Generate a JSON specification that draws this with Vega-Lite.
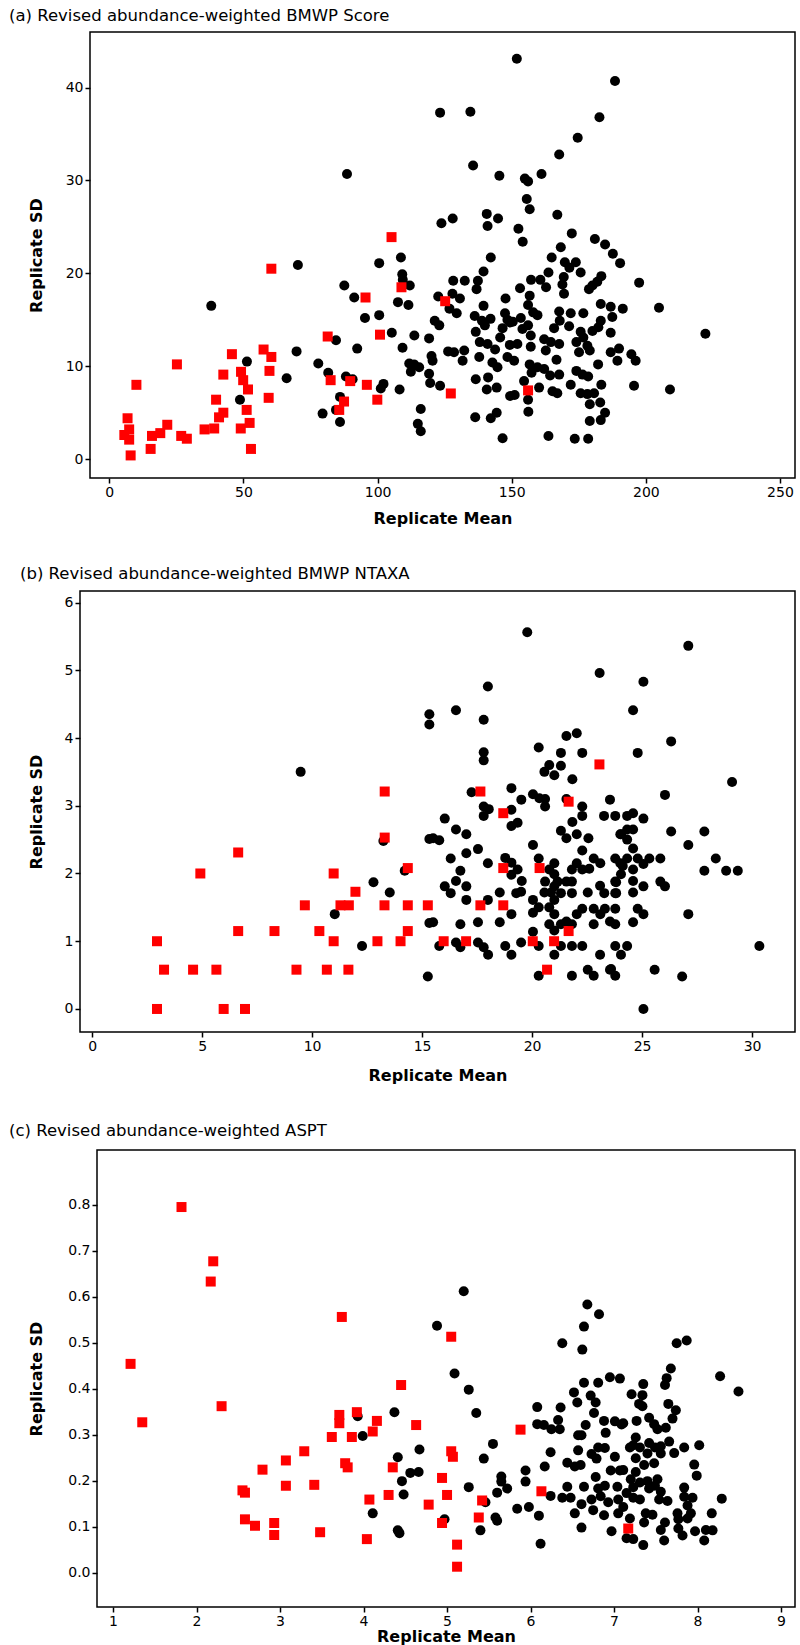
{
"$schema": "https://vega.github.io/schema/vega-lite/v6.json",
"background": "white",
"padding": {"left": 7, "top": 6, "right": 2, "bottom": 0},
"spacing": 37,
"config": {
  "view": {"stroke": "#000000", "strokeWidth": 1.5},
  "axis": {"domain": false, "grid": false, "ticks": true, "tickColor": "#000000", "tickSize": 5, "tickWidth": 1.5, "labelPadding": 2,
    "labelFont": "DejaVu Sans", "labelFontSize": 14, "labelColor": "#000000",
    "titleFont": "DejaVu Sans", "titleFontSize": 16, "titleFontWeight": "bold", "titleColor": "#000000", "titlePadding": 11},
  "title": {"font": "DejaVu Sans", "fontSize": 16.5, "fontWeight": "normal", "anchor": "start", "frame": "group", "color": "#000000"},
  "point": {"filled": true, "opacity": 1, "strokeWidth": 0}
},
"vconcat": [
{"spacing": 0, "hconcat": [
{
  "width": 1, "height": 1,
  "view": {"stroke": null},
  "data": {"values": []},
  "mark": {"type": "point", "opacity": 0}
},
{
  "title": {"text": "(a) Revised abundance-weighted BMWP Score", "dx": -81, "offset": 8},
  "width": 705, "height": 446,
  "data": {"values": [
{"x":88.6,"y":30.7,"g":"b"},{"x":38.0,"y":16.5,"g":"b"},{"x":70.3,"y":20.9,"g":"b"},{"x":100.6,"y":21.1,"g":"b"},{"x":108.7,"y":21.7,"g":"b"},{"x":109.2,"y":19.9,"g":"b"},{"x":109.4,"y":19.3,"g":"b"},{"x":112.0,"y":18.7,"g":"b"},{"x":87.6,"y":18.7,"g":"b"},{"x":91.3,"y":17.4,"g":"b"},{"x":107.6,"y":16.9,"g":"b"},{"x":111.5,"y":16.6,"g":"b"},{"x":95.3,"y":15.2,"g":"b"},{"x":100.6,"y":15.5,"g":"b"},{"x":105.3,"y":13.6,"g":"b"},{"x":113.7,"y":13.3,"g":"b"},{"x":109.3,"y":12.0,"g":"b"},{"x":92.4,"y":11.9,"g":"b"},{"x":84.5,"y":12.8,"g":"b"},{"x":69.8,"y":11.6,"g":"b"},{"x":51.3,"y":10.5,"g":"b"},{"x":77.9,"y":10.3,"g":"b"},{"x":81.6,"y":9.3,"g":"b"},{"x":66.1,"y":8.7,"g":"b"},{"x":88.2,"y":8.9,"g":"b"},{"x":90.7,"y":8.6,"g":"b"},{"x":102.2,"y":8.1,"g":"b"},{"x":101.2,"y":7.6,"g":"b"},{"x":108.2,"y":7.5,"g":"b"},{"x":111.8,"y":10.3,"g":"b"},{"x":112.4,"y":9.4,"g":"b"},{"x":115.5,"y":9.9,"g":"b"},{"x":48.7,"y":6.4,"g":"b"},{"x":86.0,"y":6.7,"g":"b"},{"x":84.5,"y":5.3,"g":"b"},{"x":79.5,"y":4.9,"g":"b"},{"x":86.0,"y":4.0,"g":"b"},{"x":115.0,"y":3.8,"g":"b"},{"x":116.1,"y":3.0,"g":"b"},{"x":116.1,"y":5.4,"g":"b"},
{"x":151.9,"y":43.1,"g":"b"},{"x":188.5,"y":40.7,"g":"b"},{"x":123.3,"y":37.3,"g":"b"},{"x":134.6,"y":37.4,"g":"b"},{"x":182.7,"y":36.8,"g":"b"},{"x":174.6,"y":34.6,"g":"b"},{"x":167.7,"y":32.8,"g":"b"},{"x":135.6,"y":31.6,"g":"b"},{"x":145.4,"y":30.5,"g":"b"},{"x":154.9,"y":30.2,"g":"b"},{"x":156.1,"y":29.9,"g":"b"},{"x":161.1,"y":30.7,"g":"b"},{"x":155.6,"y":28.0,"g":"b"},{"x":156.7,"y":26.9,"g":"b"},{"x":167.0,"y":26.3,"g":"b"},{"x":123.8,"y":25.4,"g":"b"},{"x":128.0,"y":25.9,"g":"b"},{"x":140.7,"y":26.4,"g":"b"},{"x":141.0,"y":25.1,"g":"b"},{"x":144.9,"y":25.9,"g":"b"},{"x":152.5,"y":24.8,"g":"b"},{"x":154.1,"y":23.4,"g":"b"},{"x":172.4,"y":24.3,"g":"b"},{"x":181.0,"y":23.7,"g":"b"},{"x":184.8,"y":23.1,"g":"b"},{"x":187.7,"y":22.1,"g":"b"},{"x":190.4,"y":21.1,"g":"b"},{"x":168.3,"y":22.8,"g":"b"},{"x":164.9,"y":21.7,"g":"b"},{"x":169.8,"y":21.2,"g":"b"},{"x":173.9,"y":21.2,"g":"b"},{"x":171.5,"y":20.6,"g":"b"},{"x":175.7,"y":20.1,"g":"b"},{"x":142.2,"y":21.7,"g":"b"},{"x":139.5,"y":20.2,"g":"b"},{"x":137.4,"y":19.2,"g":"b"},{"x":136.9,"y":18.3,"g":"b"},{"x":128.2,"y":19.2,"g":"b"},{"x":132.5,"y":19.2,"g":"b"},{"x":153.1,"y":18.4,"g":"b"},{"x":157.2,"y":19.3,"g":"b"},{"x":160.7,"y":19.3,"g":"b"},{"x":163.7,"y":20.1,"g":"b"},{"x":162.8,"y":18.5,"g":"b"},{"x":169.4,"y":19.6,"g":"b"},{"x":168.9,"y":18.8,"g":"b"},{"x":169.5,"y":17.8,"g":"b"},{"x":183.4,"y":19.7,"g":"b"},{"x":181.9,"y":19.1,"g":"b"},{"x":180.1,"y":18.7,"g":"b"},{"x":178.8,"y":18.3,"g":"b"},{"x":122.6,"y":17.5,"g":"b"},{"x":127.9,"y":17.8,"g":"b"},{"x":130.7,"y":17.3,"g":"b"},{"x":126.8,"y":16.2,"g":"b"},{"x":129.5,"y":15.7,"g":"b"},{"x":147.7,"y":17.3,"g":"b"},{"x":139.5,"y":16.5,"g":"b"},{"x":156.7,"y":17.6,"g":"b"},{"x":156.1,"y":16.6,"g":"b"},{"x":158.0,"y":15.8,"g":"b"},{"x":159.6,"y":15.5,"g":"b"},{"x":147.5,"y":15.7,"g":"b"},{"x":148.4,"y":15.0,"g":"b"},{"x":150.4,"y":14.8,"g":"b"},{"x":136.2,"y":15.4,"g":"b"},{"x":138.9,"y":14.9,"g":"b"},{"x":142.1,"y":15.1,"g":"b"},{"x":153.4,"y":15.2,"g":"b"},{"x":156.1,"y":14.4,"g":"b"},{"x":167.7,"y":15.9,"g":"b"},{"x":172.0,"y":15.7,"g":"b"},{"x":167.9,"y":14.9,"g":"b"},{"x":165.8,"y":14.1,"g":"b"},{"x":171.4,"y":14.3,"g":"b"},{"x":176.7,"y":15.7,"g":"b"},{"x":183.2,"y":16.7,"g":"b"},{"x":186.9,"y":16.4,"g":"b"},{"x":187.5,"y":15.3,"g":"b"},{"x":183.2,"y":14.9,"g":"b"},{"x":182.3,"y":14.2,"g":"b"},{"x":186.9,"y":13.6,"g":"b"},{"x":180.1,"y":13.8,"g":"b"},{"x":175.7,"y":13.7,"g":"b"},{"x":176.7,"y":13.1,"g":"b"},{"x":121.3,"y":14.9,"g":"b"},{"x":123.0,"y":14.4,"g":"b"},{"x":119.2,"y":13.0,"g":"b"},{"x":136.6,"y":13.7,"g":"b"},{"x":140.0,"y":14.4,"g":"b"},{"x":146.6,"y":14.1,"g":"b"},{"x":145.7,"y":13.1,"g":"b"},{"x":149.4,"y":14.7,"g":"b"},{"x":154.0,"y":14.0,"g":"b"},{"x":157.1,"y":13.3,"g":"b"},{"x":162.1,"y":12.9,"g":"b"},{"x":167.7,"y":12.4,"g":"b"},{"x":138.1,"y":12.6,"g":"b"},{"x":141.0,"y":12.4,"g":"b"},{"x":143.8,"y":11.8,"g":"b"},{"x":149.3,"y":12.3,"g":"b"},{"x":152.1,"y":12.4,"g":"b"},{"x":157.1,"y":12.1,"g":"b"},{"x":162.7,"y":11.7,"g":"b"},{"x":164.6,"y":12.6,"g":"b"},{"x":166.7,"y":10.7,"g":"b"},{"x":174.1,"y":12.6,"g":"b"},{"x":178.2,"y":12.2,"g":"b"},{"x":175.1,"y":11.5,"g":"b"},{"x":179.1,"y":11.7,"g":"b"},{"x":186.9,"y":11.5,"g":"b"},{"x":189.4,"y":10.6,"g":"b"},{"x":126.3,"y":11.6,"g":"b"},{"x":128.5,"y":11.5,"g":"b"},{"x":132.3,"y":11.7,"g":"b"},{"x":131.7,"y":10.6,"g":"b"},{"x":120.1,"y":11.1,"g":"b"},{"x":120.5,"y":10.6,"g":"b"},{"x":113.6,"y":10.2,"g":"b"},{"x":119.2,"y":9.2,"g":"b"},{"x":119.6,"y":8.2,"g":"b"},{"x":123.3,"y":7.9,"g":"b"},{"x":137.9,"y":11.0,"g":"b"},{"x":142.8,"y":10.4,"g":"b"},{"x":148.4,"y":11.0,"g":"b"},{"x":150.9,"y":10.6,"g":"b"},{"x":144.7,"y":9.9,"g":"b"},{"x":156.7,"y":10.2,"g":"b"},{"x":159.6,"y":9.9,"g":"b"},{"x":162.1,"y":9.7,"g":"b"},{"x":157.4,"y":9.3,"g":"b"},{"x":154.6,"y":8.4,"g":"b"},{"x":164.3,"y":9.0,"g":"b"},{"x":167.7,"y":9.1,"g":"b"},{"x":160.2,"y":7.7,"g":"b"},{"x":165.2,"y":7.3,"g":"b"},{"x":167.0,"y":7.1,"g":"b"},{"x":136.6,"y":8.6,"g":"b"},{"x":141.2,"y":8.8,"g":"b"},{"x":140.7,"y":7.5,"g":"b"},{"x":144.4,"y":7.7,"g":"b"},{"x":149.4,"y":6.8,"g":"b"},{"x":151.1,"y":6.9,"g":"b"},{"x":156.1,"y":6.4,"g":"b"},{"x":156.2,"y":5.1,"g":"b"},{"x":172.0,"y":8.0,"g":"b"},{"x":174.1,"y":9.5,"g":"b"},{"x":176.4,"y":9.1,"g":"b"},{"x":178.5,"y":8.9,"g":"b"},{"x":175.7,"y":7.1,"g":"b"},{"x":178.2,"y":7.0,"g":"b"},{"x":180.7,"y":7.1,"g":"b"},{"x":182.2,"y":10.2,"g":"b"},{"x":183.4,"y":8.0,"g":"b"},{"x":179.1,"y":5.9,"g":"b"},{"x":183.0,"y":6.1,"g":"b"},{"x":184.8,"y":5.0,"g":"b"},{"x":183.2,"y":4.2,"g":"b"},{"x":179.1,"y":4.1,"g":"b"},{"x":136.4,"y":4.5,"g":"b"},{"x":142.2,"y":4.4,"g":"b"},{"x":144.4,"y":5.0,"g":"b"},{"x":146.6,"y":2.25,"g":"b"},{"x":163.7,"y":2.5,"g":"b"},{"x":173.5,"y":2.2,"g":"b"},{"x":178.5,"y":2.2,"g":"b"},
{"x":197.5,"y":19.0,"g":"b"},{"x":204.9,"y":16.3,"g":"b"},{"x":191.4,"y":16.2,"g":"b"},{"x":222.2,"y":13.5,"g":"b"},{"x":190.0,"y":11.9,"g":"b"},{"x":194.6,"y":11.3,"g":"b"},{"x":196.2,"y":10.6,"g":"b"},{"x":195.6,"y":7.9,"g":"b"},{"x":209.0,"y":7.5,"g":"b"},
{"x":105.2,"y":23.9,"g":"r"},{"x":60.4,"y":20.5,"g":"r"},{"x":108.9,"y":18.5,"g":"r"},{"x":95.5,"y":17.4,"g":"r"},{"x":100.9,"y":13.4,"g":"r"},{"x":81.4,"y":13.2,"g":"r"},{"x":45.7,"y":11.3,"g":"r"},{"x":57.5,"y":11.8,"g":"r"},{"x":60.4,"y":11.0,"g":"r"},{"x":25.2,"y":10.2,"g":"r"},{"x":42.5,"y":9.1,"g":"r"},{"x":59.7,"y":9.5,"g":"r"},{"x":49.1,"y":9.4,"g":"r"},{"x":49.9,"y":8.5,"g":"r"},{"x":51.7,"y":7.5,"g":"r"},{"x":10.1,"y":8.0,"g":"r"},{"x":82.5,"y":8.5,"g":"r"},{"x":89.8,"y":8.4,"g":"r"},{"x":96.0,"y":8.0,"g":"r"},{"x":99.9,"y":6.4,"g":"r"},{"x":87.5,"y":6.2,"g":"r"},{"x":85.7,"y":5.3,"g":"r"},{"x":39.8,"y":6.4,"g":"r"},{"x":59.4,"y":6.6,"g":"r"},{"x":51.2,"y":5.3,"g":"r"},{"x":42.5,"y":5.0,"g":"r"},{"x":40.9,"y":4.5,"g":"r"},{"x":6.8,"y":4.4,"g":"r"},{"x":21.6,"y":3.7,"g":"r"},{"x":52.3,"y":3.9,"g":"r"},{"x":7.4,"y":3.2,"g":"r"},{"x":5.6,"y":2.6,"g":"r"},{"x":7.4,"y":2.1,"g":"r"},{"x":15.9,"y":2.5,"g":"r"},{"x":19.0,"y":2.8,"g":"r"},{"x":26.8,"y":2.5,"g":"r"},{"x":28.9,"y":2.2,"g":"r"},{"x":35.5,"y":3.2,"g":"r"},{"x":39.1,"y":3.3,"g":"r"},{"x":49.0,"y":3.3,"g":"r"},{"x":15.4,"y":1.1,"g":"r"},{"x":52.8,"y":1.1,"g":"r"},{"x":7.95,"y":0.4,"g":"r"},{"x":125.2,"y":17.0,"g":"r"},{"x":127.3,"y":7.07,"g":"r"},{"x":156.1,"y":7.4,"g":"r"}
  ]},
  "mark": {"type": "point"},
  "encoding": {
    "x": {"field": "x", "type": "quantitative", "scale": {"domain": [-7.2, 255.6], "nice": false, "zero": false}, "axis": {"values": [0,50,100,150,200,250], "title": "Replicate Mean"}},
    "y": {"field": "y", "type": "quantitative", "scale": {"domain": [-2.03, 45.98], "nice": false, "zero": false}, "axis": {"values": [0,10,20,30,40], "title": "Replicate SD", "titleX": -54, "titleBaseline": "middle"}},
    "shape": {"field": "g", "type": "nominal", "scale": {"domain": ["b","r"], "range": ["circle","square"]}, "legend": null},
    "color": {"field": "g", "type": "nominal", "scale": {"domain": ["b","r"], "range": ["#000000","#ff0000"]}, "legend": null},
    "size": {"value": 100}
  }
}
]},
{"spacing": 11, "hconcat": [
{
  "width": 1, "height": 1,
  "view": {"stroke": null},
  "data": {"values": []},
  "mark": {"type": "point", "opacity": 0}
},
{
  "title": {"text": "(b) Revised abundance-weighted BMWP NTAXA", "dx": -60, "offset": 9},
  "width": 715, "height": 441,
  "data": {"values": [
{"x":9.48,"y":3.5,"g":"b"},{"x":13.24,"y":2.48,"g":"b"},{"x":12.79,"y":1.87,"g":"b"},{"x":13.53,"y":1.72,"g":"b"},{"x":14.21,"y":2.04,"g":"b"},{"x":11.03,"y":1.40,"g":"b"},{"x":12.27,"y":0.93,"g":"b"},{"x":15.33,"y":4.35,"g":"b"},{"x":15.33,"y":4.20,"g":"b"},{"x":15.33,"y":2.51,"g":"b"},{"x":15.33,"y":1.27,"g":"b"},{"x":15.26,"y":0.48,"g":"b"},
{"x":19.78,"y":5.56,"g":"b"},{"x":23.07,"y":4.96,"g":"b"},{"x":17.99,"y":4.76,"g":"b"},{"x":16.54,"y":4.41,"g":"b"},{"x":17.8,"y":4.27,"g":"b"},{"x":17.8,"y":3.79,"g":"b"},{"x":17.8,"y":3.67,"g":"b"},{"x":20.3,"y":3.86,"g":"b"},{"x":21.56,"y":4.03,"g":"b"},{"x":22.03,"y":4.07,"g":"b"},{"x":21.31,"y":3.78,"g":"b"},{"x":22.28,"y":3.78,"g":"b"},{"x":20.78,"y":3.6,"g":"b"},{"x":20.56,"y":3.5,"g":"b"},{"x":21.01,"y":3.45,"g":"b"},{"x":21.31,"y":3.59,"g":"b"},{"x":21.83,"y":3.39,"g":"b"},{"x":17.25,"y":3.2,"g":"b"},{"x":19.06,"y":3.26,"g":"b"},{"x":19.51,"y":3.09,"g":"b"},{"x":19.06,"y":2.94,"g":"b"},{"x":17.8,"y":2.99,"g":"b"},{"x":18.03,"y":2.95,"g":"b"},{"x":17.8,"y":2.85,"g":"b"},{"x":20.04,"y":3.17,"g":"b"},{"x":20.33,"y":3.11,"g":"b"},{"x":20.59,"y":3.1,"g":"b"},{"x":20.59,"y":2.99,"g":"b"},{"x":21.56,"y":3.1,"g":"b"},{"x":22.28,"y":2.99,"g":"b"},{"x":22.28,"y":2.85,"g":"b"},{"x":23.54,"y":3.09,"g":"b"},{"x":23.27,"y":2.85,"g":"b"},{"x":23.78,"y":2.85,"g":"b"},{"x":19.06,"y":2.7,"g":"b"},{"x":19.34,"y":2.75,"g":"b"},{"x":16.03,"y":2.81,"g":"b"},{"x":16.54,"y":2.65,"g":"b"},{"x":17.01,"y":2.58,"g":"b"},{"x":15.5,"y":2.52,"g":"b"},{"x":15.78,"y":2.49,"g":"b"},{"x":21.83,"y":2.76,"g":"b"},{"x":21.31,"y":2.63,"g":"b"},{"x":21.56,"y":2.52,"g":"b"},{"x":22.03,"y":2.58,"g":"b"},{"x":22.56,"y":2.52,"g":"b"},{"x":24.01,"y":2.58,"g":"b"},{"x":20.04,"y":2.42,"g":"b"},{"x":22.28,"y":2.34,"g":"b"},{"x":17.54,"y":2.36,"g":"b"},{"x":17.01,"y":2.3,"g":"b"},{"x":16.3,"y":2.22,"g":"b"},{"x":17.99,"y":2.15,"g":"b"},{"x":18.78,"y":2.23,"g":"b"},{"x":19.06,"y":2.16,"g":"b"},{"x":19.34,"y":2.06,"g":"b"},{"x":19.06,"y":1.98,"g":"b"},{"x":19.53,"y":1.89,"g":"b"},{"x":20.3,"y":2.22,"g":"b"},{"x":21.01,"y":2.15,"g":"b"},{"x":21.01,"y":1.99,"g":"b"},{"x":20.78,"y":2.06,"g":"b"},{"x":22.03,"y":2.15,"g":"b"},{"x":21.81,"y":2.06,"g":"b"},{"x":22.28,"y":2.06,"g":"b"},{"x":22.6,"y":2.07,"g":"b"},{"x":22.8,"y":2.22,"g":"b"},{"x":23.1,"y":2.15,"g":"b"},{"x":23.78,"y":2.22,"g":"b"},{"x":24.01,"y":2.15,"g":"b"},{"x":16.74,"y":2.04,"g":"b"},{"x":16.54,"y":1.89,"g":"b"},{"x":17.01,"y":1.81,"g":"b"},{"x":16.03,"y":1.81,"g":"b"},{"x":16.3,"y":1.71,"g":"b"},{"x":17.01,"y":1.61,"g":"b"},{"x":17.99,"y":1.61,"g":"b"},{"x":18.53,"y":1.72,"g":"b"},{"x":19.28,"y":1.71,"g":"b"},{"x":19.5,"y":1.73,"g":"b"},{"x":20.59,"y":1.88,"g":"b"},{"x":21.01,"y":1.81,"g":"b"},{"x":21.16,"y":1.88,"g":"b"},{"x":21.56,"y":1.88,"g":"b"},{"x":21.81,"y":1.88,"g":"b"},{"x":20.56,"y":1.72,"g":"b"},{"x":20.86,"y":1.72,"g":"b"},{"x":21.31,"y":1.71,"g":"b"},{"x":21.81,"y":1.71,"g":"b"},{"x":20.04,"y":1.61,"g":"b"},{"x":21.01,"y":1.61,"g":"b"},{"x":20.3,"y":1.5,"g":"b"},{"x":20.78,"y":1.5,"g":"b"},{"x":21.01,"y":1.4,"g":"b"},{"x":20.04,"y":1.42,"g":"b"},{"x":22.53,"y":1.72,"g":"b"},{"x":23.09,"y":1.82,"g":"b"},{"x":23.28,"y":1.71,"g":"b"},{"x":23.78,"y":1.88,"g":"b"},{"x":23.78,"y":1.71,"g":"b"},{"x":22.03,"y":1.4,"g":"b"},{"x":22.28,"y":1.48,"g":"b"},{"x":22.8,"y":1.48,"g":"b"},{"x":23.1,"y":1.4,"g":"b"},{"x":23.31,"y":1.48,"g":"b"},{"x":23.78,"y":1.48,"g":"b"},{"x":19.06,"y":1.4,"g":"b"},{"x":15.5,"y":1.28,"g":"b"},{"x":16.74,"y":1.25,"g":"b"},{"x":17.54,"y":1.28,"g":"b"},{"x":18.53,"y":1.28,"g":"b"},{"x":20.78,"y":1.25,"g":"b"},{"x":21.01,"y":1.16,"g":"b"},{"x":21.31,"y":1.25,"g":"b"},{"x":21.56,"y":1.29,"g":"b"},{"x":21.81,"y":1.25,"g":"b"},{"x":20.04,"y":1.14,"g":"b"},{"x":22.8,"y":1.25,"g":"b"},{"x":23.54,"y":1.29,"g":"b"},{"x":23.78,"y":1.25,"g":"b"},{"x":15.78,"y":0.93,"g":"b"},{"x":16.54,"y":0.98,"g":"b"},{"x":16.74,"y":0.91,"g":"b"},{"x":17.54,"y":0.98,"g":"b"},{"x":17.8,"y":0.91,"g":"b"},{"x":18.0,"y":0.8,"g":"b"},{"x":18.78,"y":0.93,"g":"b"},{"x":19.06,"y":0.8,"g":"b"},{"x":19.5,"y":0.98,"g":"b"},{"x":20.3,"y":0.93,"g":"b"},{"x":21.31,"y":0.93,"g":"b"},{"x":21.81,"y":0.93,"g":"b"},{"x":22.28,"y":0.93,"g":"b"},{"x":21.01,"y":0.8,"g":"b"},{"x":23.09,"y":0.8,"g":"b"},{"x":23.78,"y":0.93,"g":"b"},{"x":20.3,"y":0.49,"g":"b"},{"x":21.81,"y":0.49,"g":"b"},{"x":22.53,"y":0.58,"g":"b"},{"x":22.8,"y":0.49,"g":"b"},{"x":23.54,"y":0.58,"g":"b"},{"x":23.78,"y":0.49,"g":"b"},
{"x":27.1,"y":5.36,"g":"b"},{"x":25.06,"y":4.83,"g":"b"},{"x":24.59,"y":4.41,"g":"b"},{"x":26.32,"y":3.95,"g":"b"},{"x":24.8,"y":3.78,"g":"b"},{"x":29.09,"y":3.35,"g":"b"},{"x":26.04,"y":3.16,"g":"b"},{"x":24.32,"y":2.85,"g":"b"},{"x":24.59,"y":2.89,"g":"b"},{"x":25.06,"y":2.81,"g":"b"},{"x":24.04,"y":2.58,"g":"b"},{"x":24.32,"y":2.65,"g":"b"},{"x":24.59,"y":2.65,"g":"b"},{"x":24.32,"y":2.5,"g":"b"},{"x":26.32,"y":2.62,"g":"b"},{"x":27.83,"y":2.62,"g":"b"},{"x":27.1,"y":2.42,"g":"b"},{"x":24.59,"y":2.37,"g":"b"},{"x":24.32,"y":2.22,"g":"b"},{"x":24.8,"y":2.22,"g":"b"},{"x":25.33,"y":2.22,"g":"b"},{"x":25.83,"y":2.22,"g":"b"},{"x":24.12,"y":2.11,"g":"b"},{"x":24.59,"y":2.06,"g":"b"},{"x":25.06,"y":2.14,"g":"b"},{"x":28.35,"y":2.22,"g":"b"},{"x":27.83,"y":2.04,"g":"b"},{"x":28.82,"y":2.04,"g":"b"},{"x":29.35,"y":2.04,"g":"b"},{"x":24.04,"y":1.99,"g":"b"},{"x":23.82,"y":1.87,"g":"b"},{"x":23.82,"y":1.71,"g":"b"},{"x":24.59,"y":1.89,"g":"b"},{"x":24.59,"y":1.72,"g":"b"},{"x":25.06,"y":1.81,"g":"b"},{"x":25.83,"y":1.88,"g":"b"},{"x":26.04,"y":1.81,"g":"b"},{"x":24.8,"y":1.48,"g":"b"},{"x":25.06,"y":1.4,"g":"b"},{"x":24.59,"y":1.28,"g":"b"},{"x":27.1,"y":1.4,"g":"b"},{"x":24.32,"y":0.93,"g":"b"},{"x":24.04,"y":0.8,"g":"b"},{"x":30.33,"y":0.93,"g":"b"},{"x":23.59,"y":0.59,"g":"b"},{"x":25.57,"y":0.58,"g":"b"},{"x":26.82,"y":0.48,"g":"b"},{"x":25.06,"y":0.0,"g":"b"},
{"x":13.3,"y":3.21,"g":"r"},{"x":13.3,"y":2.53,"g":"r"},{"x":6.64,"y":2.31,"g":"r"},{"x":4.92,"y":2.0,"g":"r"},{"x":10.98,"y":2.0,"g":"r"},{"x":14.35,"y":2.08,"g":"r"},{"x":11.97,"y":1.73,"g":"r"},{"x":9.67,"y":1.53,"g":"r"},{"x":11.29,"y":1.53,"g":"r"},{"x":11.67,"y":1.53,"g":"r"},{"x":13.29,"y":1.53,"g":"r"},{"x":14.35,"y":1.53,"g":"r"},{"x":15.26,"y":1.53,"g":"r"},{"x":6.64,"y":1.15,"g":"r"},{"x":8.29,"y":1.15,"g":"r"},{"x":10.33,"y":1.15,"g":"r"},{"x":14.35,"y":1.15,"g":"r"},{"x":2.95,"y":1.0,"g":"r"},{"x":10.98,"y":1.0,"g":"r"},{"x":12.97,"y":1.0,"g":"r"},{"x":14.02,"y":1.0,"g":"r"},{"x":3.27,"y":0.58,"g":"r"},{"x":4.59,"y":0.58,"g":"r"},{"x":5.65,"y":0.58,"g":"r"},{"x":9.29,"y":0.58,"g":"r"},{"x":10.67,"y":0.58,"g":"r"},{"x":11.65,"y":0.58,"g":"r"},{"x":2.95,"y":0.0,"g":"r"},{"x":5.98,"y":0.0,"g":"r"},{"x":6.95,"y":0.0,"g":"r"},{"x":17.65,"y":3.21,"g":"r"},{"x":18.69,"y":2.89,"g":"r"},{"x":23.06,"y":3.61,"g":"r"},{"x":21.66,"y":3.06,"g":"r"},{"x":18.69,"y":2.08,"g":"r"},{"x":20.34,"y":2.08,"g":"r"},{"x":17.65,"y":1.53,"g":"r"},{"x":18.69,"y":1.53,"g":"r"},{"x":21.66,"y":1.15,"g":"r"},{"x":15.98,"y":1.0,"g":"r"},{"x":17.0,"y":1.0,"g":"r"},{"x":20.03,"y":1.0,"g":"r"},{"x":21.0,"y":1.0,"g":"r"},{"x":20.68,"y":0.58,"g":"r"}
  ]},
  "mark": {"type": "point"},
  "encoding": {
    "x": {"field": "x", "type": "quantitative", "scale": {"domain": [-0.55, 31.95], "nice": false, "zero": false}, "axis": {"values": [0,5,10,15,20,25,30], "title": "Replicate Mean", "titlePadding": 14}},
    "y": {"field": "y", "type": "quantitative", "scale": {"domain": [-0.34, 6.17], "nice": false, "zero": false}, "axis": {"values": [0,1,2,3,4,5,6], "title": "Replicate SD", "titleX": -44, "titleBaseline": "middle"}},
    "shape": {"field": "g", "type": "nominal", "scale": {"domain": ["b","r"], "range": ["circle","square"]}, "legend": null},
    "color": {"field": "g", "type": "nominal", "scale": {"domain": ["b","r"], "range": ["#000000","#ff0000"]}, "legend": null},
    "size": {"value": 100}
  }
}
]},
{"spacing": 0, "hconcat": [
{
  "width": 1, "height": 1,
  "view": {"stroke": null},
  "data": {"values": []},
  "mark": {"type": "point", "opacity": 0}
},
{
  "title": {"text": "(c) Revised abundance-weighted ASPT", "dx": -88, "offset": 11},
  "width": 698, "height": 457,
  "data": {"values": [
{"x":4.37,"y":0.349,"g":"b"},{"x":3.93,"y":0.34,"g":"b"},{"x":3.99,"y":0.297,"g":"b"},{"x":4.41,"y":0.251,"g":"b"},{"x":4.67,"y":0.268,"g":"b"},{"x":4.56,"y":0.217,"g":"b"},{"x":4.66,"y":0.219,"g":"b"},{"x":4.46,"y":0.199,"g":"b"},{"x":4.48,"y":0.17,"g":"b"},{"x":4.11,"y":0.129,"g":"b"},{"x":4.41,"y":0.092,"g":"b"},{"x":4.43,"y":0.086,"g":"b"},
{"x":5.2,"y":0.612,"g":"b"},{"x":4.88,"y":0.537,"g":"b"},{"x":5.09,"y":0.433,"g":"b"},{"x":5.26,"y":0.398,"g":"b"},{"x":5.35,"y":0.347,"g":"b"},{"x":6.68,"y":0.583,"g":"b"},{"x":6.82,"y":0.562,"g":"b"},{"x":6.64,"y":0.535,"g":"b"},{"x":6.38,"y":0.499,"g":"b"},{"x":6.62,"y":0.485,"g":"b"},{"x":5.55,"y":0.28,"g":"b"},{"x":5.44,"y":0.248,"g":"b"},{"x":5.65,"y":0.209,"g":"b"},{"x":5.65,"y":0.198,"g":"b"},{"x":5.72,"y":0.183,"g":"b"},{"x":5.6,"y":0.174,"g":"b"},{"x":5.26,"y":0.186,"g":"b"},{"x":5.46,"y":0.153,"g":"b"},{"x":5.94,"y":0.222,"g":"b"},{"x":5.94,"y":0.198,"g":"b"},{"x":5.84,"y":0.139,"g":"b"},{"x":5.98,"y":0.143,"g":"b"},{"x":5.58,"y":0.12,"g":"b"},{"x":5.6,"y":0.113,"g":"b"},{"x":5.4,"y":0.092,"g":"b"},{"x":4.97,"y":0.116,"g":"b"},{"x":6.1,"y":0.124,"g":"b"},{"x":6.12,"y":0.063,"g":"b"},{"x":6.08,"y":0.36,"g":"b"},{"x":6.36,"y":0.359,"g":"b"},{"x":6.52,"y":0.392,"g":"b"},{"x":6.56,"y":0.37,"g":"b"},{"x":6.64,"y":0.413,"g":"b"},{"x":6.81,"y":0.413,"g":"b"},{"x":6.95,"y":0.425,"g":"b"},{"x":7.07,"y":0.422,"g":"b"},{"x":6.72,"y":0.385,"g":"b"},{"x":6.78,"y":0.37,"g":"b"},{"x":6.76,"y":0.347,"g":"b"},{"x":6.33,"y":0.332,"g":"b"},{"x":6.08,"y":0.323,"g":"b"},{"x":6.16,"y":0.321,"g":"b"},{"x":6.25,"y":0.312,"g":"b"},{"x":6.35,"y":0.312,"g":"b"},{"x":6.66,"y":0.321,"g":"b"},{"x":6.61,"y":0.299,"g":"b"},{"x":6.57,"y":0.299,"g":"b"},{"x":6.88,"y":0.33,"g":"b"},{"x":7.01,"y":0.329,"g":"b"},{"x":7.09,"y":0.322,"g":"b"},{"x":6.9,"y":0.304,"g":"b"},{"x":6.24,"y":0.262,"g":"b"},{"x":6.17,"y":0.231,"g":"b"},{"x":6.57,"y":0.266,"g":"b"},{"x":6.73,"y":0.258,"g":"b"},{"x":6.79,"y":0.248,"g":"b"},{"x":6.81,"y":0.272,"g":"b"},{"x":6.89,"y":0.271,"g":"b"},{"x":7.01,"y":0.252,"g":"b"},{"x":6.44,"y":0.239,"g":"b"},{"x":6.53,"y":0.231,"g":"b"},{"x":6.6,"y":0.234,"g":"b"},{"x":6.96,"y":0.222,"g":"b"},{"x":7.07,"y":0.222,"g":"b"},{"x":6.78,"y":0.208,"g":"b"},{"x":6.44,"y":0.187,"g":"b"},{"x":6.64,"y":0.187,"g":"b"},{"x":6.81,"y":0.183,"g":"b"},{"x":6.89,"y":0.189,"g":"b"},{"x":7.04,"y":0.187,"g":"b"},{"x":6.24,"y":0.167,"g":"b"},{"x":6.38,"y":0.163,"g":"b"},{"x":6.48,"y":0.163,"g":"b"},{"x":6.61,"y":0.149,"g":"b"},{"x":6.73,"y":0.159,"g":"b"},{"x":6.84,"y":0.166,"g":"b"},{"x":6.93,"y":0.153,"g":"b"},{"x":7.05,"y":0.159,"g":"b"},{"x":6.53,"y":0.129,"g":"b"},{"x":6.75,"y":0.136,"g":"b"},{"x":6.88,"y":0.125,"g":"b"},{"x":7.05,"y":0.129,"g":"b"},{"x":6.61,"y":0.098,"g":"b"},{"x":6.97,"y":0.09,"g":"b"},{"x":7.15,"y":0.075,"g":"b"},
{"x":7.75,"y":0.499,"g":"b"},{"x":7.87,"y":0.505,"g":"b"},{"x":7.68,"y":0.444,"g":"b"},{"x":7.63,"y":0.423,"g":"b"},{"x":7.61,"y":0.408,"g":"b"},{"x":8.27,"y":0.427,"g":"b"},{"x":8.49,"y":0.394,"g":"b"},{"x":7.35,"y":0.41,"g":"b"},{"x":7.21,"y":0.388,"g":"b"},{"x":7.34,"y":0.386,"g":"b"},{"x":7.3,"y":0.367,"g":"b"},{"x":7.34,"y":0.362,"g":"b"},{"x":7.65,"y":0.367,"g":"b"},{"x":7.74,"y":0.353,"g":"b"},{"x":7.7,"y":0.335,"g":"b"},{"x":7.42,"y":0.337,"g":"b"},{"x":7.48,"y":0.323,"g":"b"},{"x":7.52,"y":0.312,"g":"b"},{"x":7.62,"y":0.315,"g":"b"},{"x":7.11,"y":0.325,"g":"b"},{"x":7.27,"y":0.33,"g":"b"},{"x":7.26,"y":0.294,"g":"b"},{"x":7.23,"y":0.277,"g":"b"},{"x":7.31,"y":0.272,"g":"b"},{"x":7.42,"y":0.282,"g":"b"},{"x":7.49,"y":0.272,"g":"b"},{"x":7.56,"y":0.275,"g":"b"},{"x":7.66,"y":0.285,"g":"b"},{"x":7.19,"y":0.272,"g":"b"},{"x":7.84,"y":0.272,"g":"b"},{"x":8.02,"y":0.277,"g":"b"},{"x":7.72,"y":0.26,"g":"b"},{"x":7.4,"y":0.259,"g":"b"},{"x":7.56,"y":0.259,"g":"b"},{"x":7.26,"y":0.249,"g":"b"},{"x":7.36,"y":0.234,"g":"b"},{"x":7.48,"y":0.238,"g":"b"},{"x":7.96,"y":0.235,"g":"b"},{"x":7.99,"y":0.211,"g":"b"},{"x":7.11,"y":0.223,"g":"b"},{"x":7.26,"y":0.219,"g":"b"},{"x":7.2,"y":0.203,"g":"b"},{"x":7.23,"y":0.186,"g":"b"},{"x":7.31,"y":0.196,"g":"b"},{"x":7.4,"y":0.199,"g":"b"},{"x":7.52,"y":0.203,"g":"b"},{"x":7.42,"y":0.183,"g":"b"},{"x":7.49,"y":0.189,"g":"b"},{"x":7.56,"y":0.176,"g":"b"},{"x":7.64,"y":0.156,"g":"b"},{"x":7.54,"y":0.159,"g":"b"},{"x":7.84,"y":0.185,"g":"b"},{"x":7.84,"y":0.165,"g":"b"},{"x":7.94,"y":0.163,"g":"b"},{"x":7.88,"y":0.146,"g":"b"},{"x":8.29,"y":0.161,"g":"b"},{"x":7.15,"y":0.173,"g":"b"},{"x":7.23,"y":0.163,"g":"b"},{"x":7.31,"y":0.159,"g":"b"},{"x":7.11,"y":0.143,"g":"b"},{"x":7.38,"y":0.129,"g":"b"},{"x":7.46,"y":0.126,"g":"b"},{"x":7.36,"y":0.109,"g":"b"},{"x":7.61,"y":0.109,"g":"b"},{"x":7.56,"y":0.093,"g":"b"},{"x":7.76,"y":0.129,"g":"b"},{"x":7.92,"y":0.129,"g":"b"},{"x":7.77,"y":0.116,"g":"b"},{"x":7.88,"y":0.118,"g":"b"},{"x":7.77,"y":0.096,"g":"b"},{"x":7.82,"y":0.081,"g":"b"},{"x":8.17,"y":0.129,"g":"b"},{"x":7.97,"y":0.09,"g":"b"},{"x":8.1,"y":0.093,"g":"b"},{"x":8.18,"y":0.092,"g":"b"},{"x":8.08,"y":0.07,"g":"b"},{"x":7.19,"y":0.118,"g":"b"},{"x":7.23,"y":0.073,"g":"b"},{"x":7.35,"y":0.06,"g":"b"},{"x":7.6,"y":0.07,"g":"b"},
{"x":1.82,"y":0.795,"g":"r"},{"x":2.2,"y":0.677,"g":"r"},{"x":2.17,"y":0.633,"g":"r"},{"x":3.74,"y":0.556,"g":"r"},{"x":1.21,"y":0.454,"g":"r"},{"x":4.45,"y":0.408,"g":"r"},{"x":2.30,"y":0.362,"g":"r"},{"x":1.35,"y":0.327,"g":"r"},{"x":3.71,"y":0.343,"g":"r"},{"x":3.71,"y":0.325,"g":"r"},{"x":3.92,"y":0.349,"g":"r"},{"x":4.16,"y":0.33,"g":"r"},{"x":4.11,"y":0.307,"g":"r"},{"x":4.63,"y":0.321,"g":"r"},{"x":3.62,"y":0.295,"g":"r"},{"x":3.86,"y":0.295,"g":"r"},{"x":3.29,"y":0.264,"g":"r"},{"x":3.07,"y":0.244,"g":"r"},{"x":2.79,"y":0.224,"g":"r"},{"x":3.78,"y":0.238,"g":"r"},{"x":3.81,"y":0.229,"g":"r"},{"x":4.35,"y":0.229,"g":"r"},{"x":2.55,"y":0.179,"g":"r"},{"x":2.58,"y":0.174,"g":"r"},{"x":3.07,"y":0.189,"g":"r"},{"x":3.41,"y":0.191,"g":"r"},{"x":4.07,"y":0.159,"g":"r"},{"x":4.3,"y":0.169,"g":"r"},{"x":4.78,"y":0.148,"g":"r"},{"x":2.58,"y":0.116,"g":"r"},{"x":2.7,"y":0.102,"g":"r"},{"x":2.93,"y":0.108,"g":"r"},{"x":2.93,"y":0.082,"g":"r"},{"x":3.48,"y":0.088,"g":"r"},{"x":4.04,"y":0.073,"g":"r"},{"x":5.05,"y":0.513,"g":"r"},{"x":5.88,"y":0.311,"g":"r"},{"x":5.05,"y":0.264,"g":"r"},{"x":5.07,"y":0.252,"g":"r"},{"x":4.94,"y":0.206,"g":"r"},{"x":5.0,"y":0.169,"g":"r"},{"x":5.42,"y":0.157,"g":"r"},{"x":4.94,"y":0.108,"g":"r"},{"x":5.38,"y":0.12,"g":"r"},{"x":6.13,"y":0.177,"g":"r"},{"x":5.12,"y":0.061,"g":"r"},{"x":5.12,"y":0.013,"g":"r"},{"x":7.17,"y":0.096,"g":"r"}
  ]},
  "mark": {"type": "point"},
  "encoding": {
    "x": {"field": "x", "type": "quantitative", "scale": {"domain": [0.808, 9.167], "nice": false, "zero": false}, "axis": {"values": [1,2,3,4,5,6,7,8,9], "title": "Replicate Mean", "titlePadding": 0}},
    "y": {"field": "y", "type": "quantitative", "scale": {"domain": [-0.0746, 0.919], "nice": false, "zero": false}, "axis": {"values": [0,0.1,0.2,0.3,0.4,0.5,0.6,0.7,0.8], "format": ".1f", "title": "Replicate SD", "titleX": -61, "titleBaseline": "middle"}},
    "shape": {"field": "g", "type": "nominal", "scale": {"domain": ["b","r"], "range": ["circle","square"]}, "legend": null},
    "color": {"field": "g", "type": "nominal", "scale": {"domain": ["b","r"], "range": ["#000000","#ff0000"]}, "legend": null},
    "size": {"value": 100}
  }
}
]}
]
}
